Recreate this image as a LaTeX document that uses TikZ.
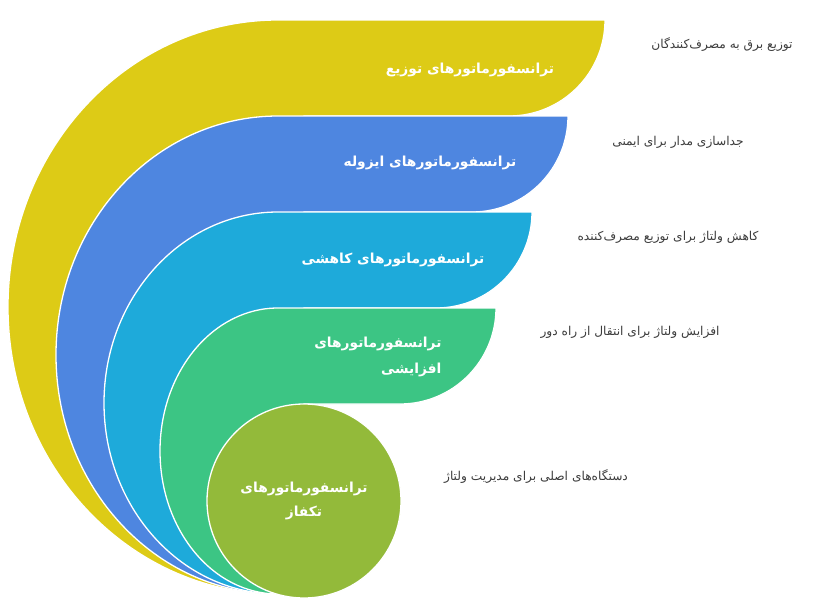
\documentclass[tikz,border=0pt]{standalone}
\usepackage{fontspec}
\TeXXeTstate=1
\newfontfamily\persian[Script=Arabic]{DejaVu Sans}
\definecolor{bandyellow}{RGB}{221,203,22}
\definecolor{bandblue}{RGB}{78,134,224}
\definecolor{bandcyan}{RGB}{30,170,218}
\definecolor{bandgreen}{RGB}{60,197,132}
\definecolor{bandolive}{RGB}{147,186,58}
\definecolor{notegray}{RGB}{60,60,60}

\begin{document}
\begin{tikzpicture}[x=1pt,y=1pt]
      \tikzset{band/.style={fill=#1, draw=white, line width=1.3pt},
        title/.style={text=white, font=\persian\bfseries\fontsize{13.8}{26}\selectfont},
        note/.style={text=notegray, font=\persian\fontsize{12.2}{14}\selectfont}
      }
      \useasboundingbox (0,0) rectangle (815,-608);

      % bands: top edge / right end / leftmost point / colour
      \foreach \yt/\xr/\xl/\col in {20/605/8/bandyellow, 116/568/56/bandblue,
          212/532/104/bandcyan, 308/496/160/bandgreen}
        \draw [band=\col] (278,-594)
          arc [start angle=270, end angle=90, x radius={278-\xl}, y radius={(594-\yt)/2}]
          -- (\xr,-\yt) arc [start angle=0, end angle=-90, radius=96]
          -- (304,-\yt-96) -- (304,-594) -- cycle;

      \node [title] (trDist) at (470,-70) {\beginR ترانسفورماتورهای توزیع\endR};
      \node [title] (trIso) at (430,-163) {\beginR ترانسفورماتورهای ایزوله\endR};
      \node [title] (trDown) at (393,-260) {\beginR ترانسفورماتورهای کاهشی\endR};
      \node [title, align=right, anchor=east] (trUp) at (445,-357)
        {\beginR ترانسفورماتورهای\endR\\\beginR افزایشی\endR};
      \node [band=bandolive, circle, minimum size=194pt, title, align=center,
        font=\persian\bfseries\fontsize{13.8}{24}\selectfont] (trPhase) at (304,-501)
        {\beginR ترانسفورماتورهای\endR\\\beginR تکفاز\endR};

      \node [note] (nDist) at (722,-45) {\beginR توزیع برق به مصرف‌کنندگان\endR};
      \node [note] (nIso) at (678,-142) {\beginR جداسازی مدار برای ایمنی\endR};
      \node [note] (nDown) at (668,-237) {\beginR کاهش ولتاژ برای توزیع مصرف‌کننده\endR};
      \node [note] (nUp) at (630,-332) {\beginR افزایش ولتاژ برای انتقال از راه دور\endR};
      \node [note] (nPhase) at (536,-477) {\beginR دستگاه‌های اصلی برای مدیریت ولتاژ\endR};
    \end{tikzpicture}
\end{document}
